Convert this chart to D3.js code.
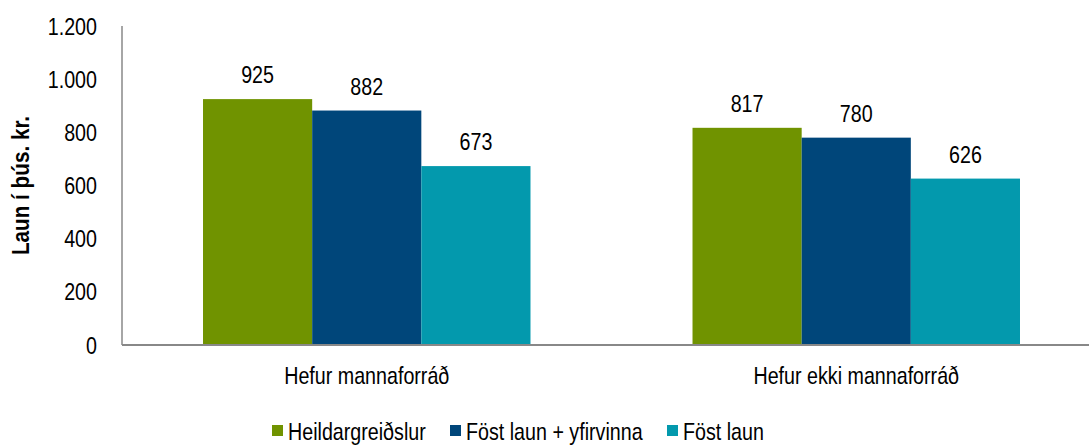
<html>
<head>
	<meta charset="utf-8">
	<title>Laun eftir mannaforráðum</title>
</head>

<style>
body{
	margin: 0;
	background: #ffffff;
}
text{
	font-family: "Liberation Sans", Arial, sans-serif;
	fill: #000000;
}
.axisline{
	stroke: #888888;
	fill: none;
}
</style>

<body>

<script src="https://cdn.jsdelivr.net/npm/d3@7/dist/d3.min.js" charset="utf-8"></script>
<script>

// gögn
var categories = ["Hefur mannaforráð", "Hefur ekki mannaforráð"];
var seriesNames = ["Heildargreiðslur", "Föst laun + yfirvinna", "Föst laun"];
var heildargreidslur = [925, 817];
var fostYfirvinna = [882, 780];
var fostLaun = [673, 626];
var yTicks = [0, 200, 400, 600, 800, 1000, 1200];
var yTickLabels = ["0", "200", "400", "600", "800", "1.000", "1.200"];
var colors = ["#709300", "#00467a", "#0399ad"];

var seriesValues = [heildargreidslur, fostYfirvinna, fostLaun];

var width = 1089;
var height = 445;
var narrow = 0.82;	// Arial Narrow er ekki til, þjappa letrinu saman

var svg = d3.select("body").append("svg")
			.attr("width", width)
			.attr("height", height);

var padding = {left: 122, top: 26, bottom: 100};
var plotRight = 1101;
var baseY = height - padding.bottom;

var x0 = d3.scaleBand()
			.domain(categories)
			.range([padding.left, plotRight])
			.paddingInner(0.331)
			.paddingOuter(0.1655);

var x1 = d3.scaleBand()
			.domain(d3.range(seriesNames.length))
			.range([0, x0.bandwidth()]);

var y = d3.scaleLinear()
			.domain([0, 1200])
			.range([baseY, padding.top]);

function place(x, y){
	return "translate(" + x + "," + y + ") scale(" + narrow + ",1)";
}

// y ás
svg.append("line")
	.attr("class", "axisline")
	.attr("x1", padding.left)
	.attr("x2", padding.left)
	.attr("y1", y(1200))
	.attr("y2", baseY)
	.attr("stroke-width", 1.5);

svg.selectAll(".ytick")
	.data(yTicks)
	.enter().append("text")
	.attr("class", "ytick")
	.attr("transform", function(d){ return place(97, y(d)); })
	.attr("dy", "0.36em")
	.attr("text-anchor", "end")
	.style("font-size", "24px")
	.text(function(d, i){ return yTickLabels[i]; });

svg.append("text")
	.attr("transform", "translate(29," + ((y(1200) + baseY) / 2) + ") rotate(-90) scale(0.9,1)")
	.attr("text-anchor", "middle")
	.style("font-size", "23px")
	.style("font-weight", "bold")
	.text("Laun í þús. kr.");

// súlur
var groups = svg.selectAll(".group")
				.data(categories)
				.enter().append("g")
				.attr("class", "group")
				.attr("transform", function(d){ return "translate(" + x0(d) + ",0)"; });

groups.selectAll("rect")
	.data(function(d, ci){ return seriesValues.map(function(s, si){ return {s: si, v: s[ci]}; }); })
	.enter().append("rect")
	.attr("x", function(d){ return x1(d.s); })
	.attr("y", function(d){ return y(d.v); })
	.attr("width", x1.bandwidth())
	.attr("height", function(d){ return baseY - y(d.v); })
	.attr("fill", function(d){ return colors[d.s]; });

groups.selectAll(".vlabel")
	.data(function(d, ci){ return seriesValues.map(function(s, si){ return {s: si, v: s[ci]}; }); })
	.enter().append("text")
	.attr("class", "vlabel")
	.attr("transform", function(d){ return place(x1(d.s) + x1.bandwidth() / 2, y(d.v) - 16); })
	.attr("text-anchor", "middle")
	.style("font-size", "24px")
	.text(function(d){ return d.v; });

// x ás
svg.append("line")
	.attr("class", "axisline")
	.attr("x1", padding.left)
	.attr("x2", width)
	.attr("y1", baseY)
	.attr("y2", baseY)
	.attr("stroke-width", 2);

svg.selectAll(".xlabel")
	.data(categories)
	.enter().append("text")
	.attr("class", "xlabel")
	.attr("transform", function(d){ return place(x0(d) + x0.bandwidth() / 2, 384); })
	.attr("text-anchor", "middle")
	.style("font-size", "24px")
	.text(function(d){ return d; });

// skýringar
var legendX = [272, 450, 667];
var legend = svg.selectAll(".legend")
				.data(seriesNames)
				.enter().append("g")
				.attr("class", "legend")
				.attr("transform", function(d, i){ return "translate(" + legendX[i] + ",425)"; });

legend.append("rect")
	.attr("width", 11)
	.attr("height", 11)
	.attr("fill", function(d, i){ return colors[i]; });

legend.append("text")
	.attr("transform", place(16, 15))
	.style("font-size", "24px")
	.text(function(d){ return d; });

</script>
</body>
</html>
